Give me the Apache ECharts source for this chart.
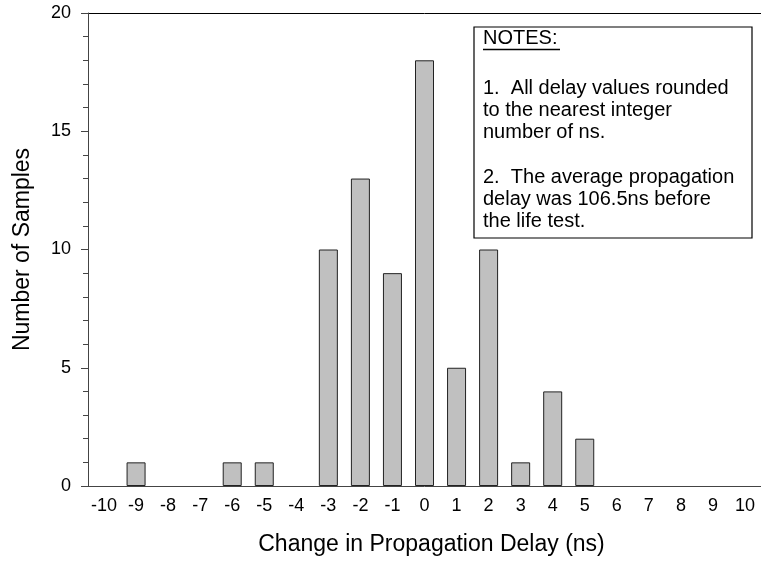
<!DOCTYPE html>
<html>
<head>
<meta charset="utf-8">
<script src="https://cdn.jsdelivr.net/npm/echarts@6/dist/echarts.min.js"></script>
<style>
html,body{margin:0;padding:0;background:#fff;}
#chart{width:761px;height:564px;}
</style>
</head>
<body>
<div id="chart"></div>
<script>
var categories = ['-10','-9','-8','-7','-6','-5','-4','-3','-2','-1','0','1','2','3','4','5','6','7','8','9','10'];
var counts = [0,1,0,0,1,1,0,10,13,9,18,5,10,1,4,2,0,0,0,0,0];
var yTicks = {min:0, max:20, interval:5};
var xTitle = 'Change in Propagation Delay (ns)';
var yTitle = 'Number of Samples';
var notesTitle = 'NOTES:';
var notesLines = [
  '1.  All delay values rounded',
  'to the nearest integer',
  'number of ns.',
  '',
  '2.  The average propagation',
  'delay was 106.5ns before',
  'the life test.'
];

var FONT = '"Liberation Sans", Arial, Helvetica, sans-serif';
var chart = echarts.init(document.getElementById('chart'));

var graphics = [
  {type:'rect', shape:{x:474, y:27, width:278, height:211},
   style:{fill:'#fff', stroke:'#000', lineWidth:1.2}, z:100},
  {type:'text', x:483, y:38, style:{text:notesTitle, font:'20px ' + FONT, fill:'#000', verticalAlign:'middle'}, z:101},
  {type:'line', shape:{x1:483, y1:49.5, x2:560, y2:49.5}, style:{stroke:'#000', lineWidth:1.3}, z:101}
];
var baselines = [95, 117, 139, 161, 184, 206, 228];
notesLines.forEach(function(t, i){
  if (!t) return;
  graphics.push({type:'text', x:483, y:baselines[i] - 7,
    style:{text:t, font:'20px ' + FONT, fill:'#000', verticalAlign:'middle'}, z:101});
});

var barData = counts.map(function(v){
  return v === 0 ? {value:v, itemStyle:{borderWidth:0, opacity:0}} : v;
});

chart.setOption({
  animation:false,
  backgroundColor:'#fff',
  grid:{left:88, top:13, width:674, bottom:78, containLabel:false},
  xAxis:[{
    type:'category', data:categories, position:'bottom', z:5,
    axisLine:{lineStyle:{color:'#444', width:1}},
    axisTick:{show:false},
    axisLabel:{color:'#000', fontSize:18, fontFamily:FONT, margin:11, interval:0},
    name:xTitle, nameLocation:'middle', nameGap:47,
    nameTextStyle:{color:'#000', fontSize:23, fontFamily:FONT, padding:[0,0,0,14]}
  },{
    type:'category', data:categories, position:'top',
    axisLine:{lineStyle:{color:'#000', width:1}},
    axisTick:{show:false}, axisLabel:{show:false}
  }],
  yAxis:{
    type:'value', min:yTicks.min, max:yTicks.max, interval:yTicks.interval, z:5,
    axisLine:{show:true, lineStyle:{color:'#444', width:1}},
    axisTick:{show:true, inside:false, length:7, lineStyle:{color:'#444'}},
    minorTick:{show:true, splitNumber:5, length:5, lineStyle:{color:'#444'}},
    splitLine:{show:false},
    axisLabel:{color:'#000', fontSize:18, fontFamily:FONT, margin:17},
    name:yTitle, nameLocation:'middle', nameRotate:90, nameGap:54,
    nameTextStyle:{color:'#000', fontSize:23, fontFamily:FONT}
  },
  series:[{
    type:'bar', data:barData, barWidth:19, z:2,
    itemStyle:{color:'#c0c0c0', borderColor:'#222', borderWidth:1}
  }],
  graphic:graphics
});
</script>
</body>
</html>
